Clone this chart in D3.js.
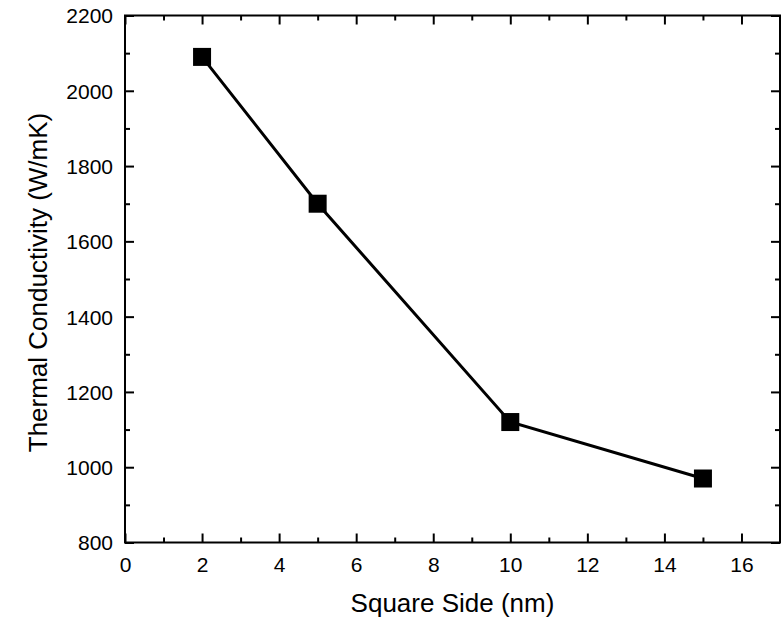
<!DOCTYPE html>
<html><head><meta charset="utf-8">
<script src="https://cdn.jsdelivr.net/npm/d3@7"></script>
<style>body{margin:0;background:#fff}svg{display:block}text{font-family:"Liberation Sans",Arial,sans-serif;fill:#000}</style>
</head><body>
<svg id="c" width="783" height="619"></svg>
<script>
const sides = [2, 5, 10, 15];
const conductivity = [2090, 1700, 1120, 970];
const xTicks = [0, 2, 4, 6, 8, 10, 12, 14, 16];
const yTicks = [800, 1000, 1200, 1400, 1600, 1800, 2000, 2200];
const xLabel = "Square Side (nm)";
const yLabel = "Thermal Conductivity (W/mK)";

const L = 125, R = 780, T = 15.5, B = 542.5;
const svg = d3.select("#c");
const x = d3.scaleLinear().domain([0, 17]).range([L, R]);
const y = d3.scaleLinear().domain([800, 2200]).range([B, T]);

const xMinor = d3.range(1, 17, 2);
const yMinor = d3.range(900, 2200, 200);

function drawTicks(makeAxis, transform, major, minor, labels) {
  const gMin = svg.append("g").attr("transform", transform)
    .call(makeAxis().tickValues(minor).tickSize(5).tickFormat(""));
  const gMaj = svg.append("g").attr("transform", transform)
    .call(makeAxis().tickValues(major).tickSize(9).tickFormat(labels ? d3.format("d") : ""));
  [gMin, gMaj].forEach(g => {
    g.select(".domain").remove();
    g.selectAll("line").attr("stroke", "#000").attr("stroke-width", 2);
  });
  return gMaj;
}
// bottom (ticks inward = up)
const gb = drawTicks(() => d3.axisTop(x), `translate(0,${B})`, xTicks, xMinor, true);
gb.selectAll("text").attr("y", 29).attr("dy", 0).style("font-size", "21px");
// top
drawTicks(() => d3.axisBottom(x), `translate(0,${T})`, xTicks, xMinor, false);
// left (inward = right)
const gl = drawTicks(() => d3.axisRight(y), `translate(${L},0)`, yTicks, yMinor, true);
gl.selectAll("text").attr("x", -12).attr("text-anchor", "end").attr("dy", "0.35em").style("font-size", "21px");
// right
drawTicks(() => d3.axisLeft(y), `translate(${R},0)`, yTicks, yMinor, false);

svg.append("rect").attr("x", L).attr("y", T).attr("width", R - L).attr("height", B - T)
  .attr("fill", "none").attr("stroke", "#000").attr("stroke-width", 2);

const pts = sides.map((s, i) => [s, conductivity[i]]);
svg.append("path").datum(pts)
  .attr("d", d3.line().x(d => x(d[0])).y(d => y(d[1])))
  .attr("fill", "none").attr("stroke", "#000").attr("stroke-width", 3);
const ms = 18;
svg.selectAll("rect.m").data(pts).enter().append("rect").attr("class", "m")
  .attr("x", d => x(d[0]) - ms / 2).attr("y", d => y(d[1]) - ms / 2)
  .attr("width", ms).attr("height", ms).attr("fill", "#000");

svg.append("text").attr("x", (L + R) / 2).attr("y", 612).attr("text-anchor", "middle")
  .style("font-size", "26px").text(xLabel);
svg.append("text").attr("transform", `translate(47,282.5) rotate(-90)`)
  .attr("text-anchor", "middle").style("font-size", "26px").text(yLabel);
</script>
</body></html>
